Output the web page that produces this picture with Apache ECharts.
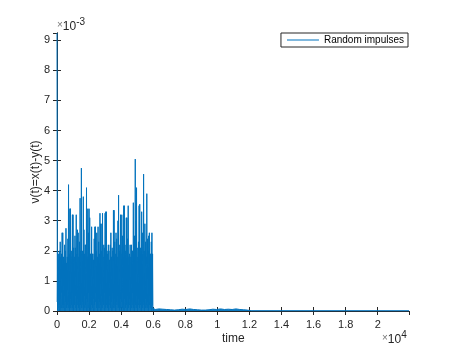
<!DOCTYPE html>
<html>
<head>
<meta charset="utf-8">
<script src="https://cdn.jsdelivr.net/npm/echarts@6/dist/echarts.min.js"></script>
<style>
html, body { margin: 0; padding: 0; background: #fff; }
#chart { width: 453px; height: 349px; }
</style>
</head>
<body>
<div id="chart"></div>
<script>
// values in units of 1e-3 (axis shows x10^-3), time in samples
var burstStep = 40; // impulse peaks from t=0 to t=6000
var burstHighs = [
	9.24, 2.0, 1.9, 1.7, 2.0, 2.3, 1.8, 1.9, 2.6, 2.6,
	1.8, 1.7, 2.2, 2.0, 2.75, 1.6, 1.8, 2.4, 4.2, 1.9,
	3.4, 3.4, 1.8, 2.0, 3.2, 3.2, 2.1, 1.8, 2.5, 2.1,
	3.2, 1.9, 2.7, 2.6, 1.8, 2.3, 3.75, 2.0, 4.75, 1.9,
	2.0, 3.8, 2.7, 1.9, 2.2, 2.2, 4.1, 1.8, 3.4, 2.6,
	3.4, 3.1, 1.9, 1.9, 2.8, 1.9, 1.9, 1.7, 2.4, 2.8,
	2.8, 2.0, 2.6, 1.8, 2.8, 2.3, 1.9, 3.25, 2.9, 2.0,
	2.9, 3.25, 1.8, 2.2, 2.1, 3.25, 3.3, 3.3, 2.0, 1.9,
	2.2, 2.0, 1.7, 2.2, 2.6, 1.8, 2.1, 2.0, 3.35, 3.35,
	2.3, 1.9, 2.6, 2.4, 1.8, 3.0, 3.85, 2.2, 2.0, 3.2,
	1.9, 3.2, 2.5, 1.8, 3.5, 3.5, 2.2, 2.0, 3.1, 3.1,
	2.4, 3.5, 1.8, 1.9, 2.2, 1.8, 2.2, 2.0, 2.0, 3.6,
	1.9, 2.5, 5.05, 3.0, 4.1, 2.1, 1.8, 2.3, 3.5, 3.55,
	2.1, 2.0, 3.3, 2.6, 1.9, 4.55, 2.0, 2.9, 2.3, 1.8,
	3.9, 2.4, 2.0, 2.5, 2.6, 1.9, 1.9, 2.3, 2.6, 1.9, 0.05
];
// troughs between the peaks (at t = 40*i + 20)
var burstLows = [
	0.3, 0.1, 0.5, 0.2, 0.0, 0.4, 0.1, 0.6, 0.2, 0.1,
	0.2, 0.5, 0.0, 0.3, 0.1, 0.2, 0.7, 0.1, 0.3, 0.0,
	0.4, 0.1, 0.2, 0.6, 0.1, 0.0, 0.3, 0.2, 0.5, 0.1,
	0.0, 0.2, 0.4, 0.1, 0.3, 0.0, 0.2, 0.6, 0.1, 0.3,
	0.2, 0.0, 0.5, 0.1, 0.2, 0.4, 0.0, 0.3, 0.1, 0.6,
	0.1, 0.3, 0.0, 0.2, 0.5, 0.1, 0.4, 0.0, 0.2, 0.3,
	0.6, 0.1, 0.2, 0.0, 0.4, 0.1, 0.3, 0.2, 0.0, 0.5,
	0.1, 0.3, 0.2, 0.6, 0.0, 0.1, 0.4, 0.2, 0.1, 0.3,
	0.0, 0.5, 0.2, 0.1, 0.3, 0.0, 0.6, 0.1, 0.2, 0.4,
	0.1, 0.0, 0.3, 0.2, 0.5, 0.1, 0.2, 0.0, 0.4, 0.1,
	0.3, 0.6, 0.1, 0.2, 0.0, 0.4, 0.1, 0.3, 0.2, 0.0,
	0.5, 0.1, 0.2, 0.4, 0.0, 0.3, 0.1, 0.6, 0.2, 0.1,
	0.0, 0.3, 0.2, 0.1, 0.5, 0.0, 0.2, 0.4, 0.1, 0.3,
	0.2, 0.0, 0.6, 0.1, 0.3, 0.2, 0.0, 0.4, 0.1, 0.2,
	0.3, 0.1, 0.0, 0.5, 0.2, 0.1, 0.4, 0.0, 0.2, 0.1
];
var tailStart = 6120, tailStep = 120; // small residue up to t=12000
var tailValues = [
	0.05, 0.03, 0.07, 0.04, 0.06, 0.03, 0.05, 0.07, 0.04, 0.05,
	0.03, 0.08, 0.04, 0.05, 0.06, 0.03, 0.05, 0.04, 0.07, 0.03,
	0.05, 0.06, 0.04, 0.08, 0.03, 0.05, 0.03, 0.07, 0.04, 0.05,
	0.06, 0.03, 0.05, 0.04, 0.07, 0.03, 0.05, 0.04, 0.06, 0.03,
	0.05, 0.04, 0.07, 0.03, 0.05, 0.08, 0.04, 0.05, 0.03, 0.06
];
var quietTimes = [12100, 21950];
var quietValues = [0.01, 0.01];

var xMax = 21950, yMax = 9.24;
var xTicks = [0, 0.2, 0.4, 0.6, 0.8, 1, 1.2, 1.4, 1.6, 1.8, 2]; // x10^4
var yTicks = [0, 1, 2, 3, 4, 5, 6, 7, 8, 9]; // x10^-3

var seriesData = [];
burstHighs.forEach(function(v, i) {
	seriesData.push([i * burstStep, v]);
	if (i < burstLows.length) seriesData.push([i * burstStep + burstStep / 2, burstLows[i]]);
});
tailValues.forEach(function(v, i) { seriesData.push([tailStart + i * tailStep, v]); });
quietValues.forEach(function(v, i) { seriesData.push([quietTimes[i], v]); });

var axisColor = '#262626';
var lineColor = '#0072BD';
var font = 'Liberation Sans, Arial, sans-serif';

var chart = echarts.init(document.getElementById('chart'));
var tickBase = {
	type: 'value', min: 0,
	axisLine: { show: true, lineStyle: { color: axisColor, width: 1 } },
	axisTick: { show: true, inside: true, length: 4, lineStyle: { color: axisColor } },
	splitLine: { show: false }
};
var powerRich = {
	x: { fontFamily: font, fontSize: 10, fill: '#777' },
	b: { fontFamily: font, fontSize: 12, fill: axisColor, padding: [4, 0, 0, 0] },
	s: { fontFamily: font, fontSize: 10, fill: axisColor, padding: [0, 0, 6, 0] }
};
chart.setOption({
	animation: false,
	grid: { left: 57, right: 44, top: 33, bottom: 38 },
	legend: {
		data: ['Random impulses'],
		right: 45, top: 33,
		orient: 'vertical',
		backgroundColor: '#fff',
		borderColor: axisColor, borderWidth: 1, borderRadius: 0,
		padding: [2, 4, 2, 6],
		itemWidth: 32, itemHeight: 1, itemGap: 4,
		icon: 'rect',
		textStyle: { fontFamily: font, fontSize: 10, color: '#000' }
	},
	xAxis: [
		Object.assign({}, tickBase, {
			max: xMax, interval: 2000,
			axisLabel: {
				showMaxLabel: false, margin: 8,
				fontFamily: font, fontSize: 11, color: axisColor,
				formatter: function(v) { return xTicks.indexOf(+(v / 10000).toFixed(1)) >= 0 ? String(+(v / 10000).toFixed(1)) : ''; }
			}
		}),
		Object.assign({}, tickBase, {
			position: 'top', max: xMax, interval: 2000,
			axisLabel: { show: false }
		})
	],
	yAxis: [
		Object.assign({}, tickBase, {
			max: yMax, interval: 1,
			axisLabel: {
				showMaxLabel: false, margin: 7,
				fontFamily: font, fontSize: 11, color: axisColor,
				formatter: function(v) { return yTicks.indexOf(v) >= 0 ? String(v) : ''; }
			}
		}),
		Object.assign({}, tickBase, {
			position: 'right', max: yMax, interval: 1,
			axisLabel: { show: false }
		})
	],
	graphic: [
		{
			type: 'text', left: 57, top: 17,
			style: { text: '{x|×}{b|10}{s|-3}', rich: powerRich }
		},
		{
			type: 'text', left: 382, top: 330,
			style: { text: '{x|×}{b|10}{s|4}', rich: powerRich }
		},
		{
			type: 'text', left: 222, top: 333,
			style: { text: 'time', fontFamily: font, fontSize: 12, fill: axisColor }
		},
		{
			type: 'text', x: 36, y: 172, rotation: Math.PI / 2,
			style: { text: 'ν(t)=x(t)-y(t)', fontFamily: font, fontSize: 12, fill: axisColor, align: 'center', verticalAlign: 'middle' }
		}
	],
	series: [{
		name: 'Random impulses',
		type: 'line',
		data: seriesData,
		showSymbol: false,
		clip: false,
		z: 5,
		lineStyle: { color: lineColor, width: 1 },
		itemStyle: { color: lineColor },
		areaStyle: { color: lineColor, opacity: 0.95, origin: 'start' }
	}]
});
</script>
</body>
</html>
